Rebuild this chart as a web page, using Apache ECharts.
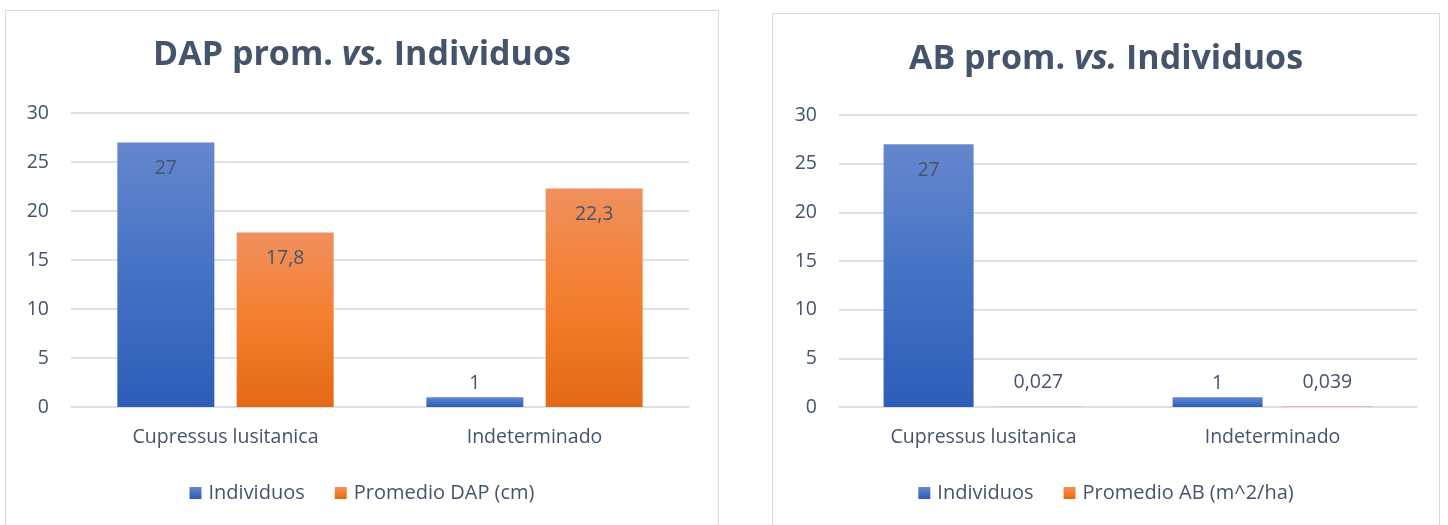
<!DOCTYPE html>
<html>
<head>
<meta charset="utf-8">
<script src="https://cdn.jsdelivr.net/npm/echarts@6/dist/echarts.min.js"></script>
<style>
  html, body { margin: 0; padding: 0; background: #fff; overflow: hidden; }
  body { width: 1448px; height: 525px; position: relative; }
  .box {
    position: absolute;
    border: 1px solid #D6DBE2;
    background: #fff;
  }
  #chartDAP { left: 5px; top: 10px; width: 712px; height: 540px; }
  #chartAB { left: 772px; top: 13px; width: 666px; height: 540px; }
</style>
</head>
<body>
<div class="box" id="chartDAP"></div>
<div class="box" id="chartAB"></div>
<script>
// datos
const categories = ["Cupressus lusitanica", "Indeterminado"];
const individuos = [27, 1];
const promedioDAP = [17.8, 22.3];
const promedioAB = [0.027, 0.039];
const yMin = 0;
const yMax = 30;
const yStep = 5;

const textColor = "#44546A";
const gridColor = "#DDE1E7";
const font = "Open Sans";
const fs = 19.5;

function grad(top, mid, bottom) {
  return new echarts.graphic.LinearGradient(0, 0, 0, 1, [
    { offset: 0, color: top },
    { offset: 0.5, color: mid },
    { offset: 1, color: bottom }
  ]);
}
const blue = grad("#6587CE", "#4472C4", "#2D5DB8");
const orange = grad("#F0905E", "#F47F2E", "#E36A16");

function fmt(v) {
  return String(v).replace(".", ",");
}

// etiquetas: dentro si la barra es alta, encima si no
function barData(values) {
  return values.map(v => {
    let big = v > 3;
    return {
      value: v,
      label: {
        position: big ? "insideTop" : "top",
        distance: big ? 16 : (v < 0.5 ? 14 : 4)
      }
    };
  });
}

function buildOption(conf) {
  return {
    animation: false,
    title: {
      text: "{b|" + conf.titleA + "}{i|vs.}{b|" + conf.titleB + "}",
      left: "center",
      top: conf.titleTop,
      padding: 0,
      textStyle: {
        rich: {
          b: { fontFamily: font, fontWeight: "bold", fontSize: 34, color: textColor, lineHeight: 40 },
          i: { fontFamily: font, fontWeight: "bold", fontStyle: "italic", fontSize: 34, color: textColor, lineHeight: 40 }
        }
      }
    },
    legend: {
      top: conf.legendTop,
      left: "center",
      itemWidth: 12,
      itemHeight: 12,
      itemGap: 30,
      icon: "rect",
      textStyle: { fontFamily: font, fontSize: 20, color: textColor, padding: [0, 0, 0, 2] },
      data: ["Individuos", conf.seriesName]
    },
    grid: {
      left: conf.gridLeft,
      top: conf.gridTop,
      width: conf.gridWidth,
      height: conf.gridHeight
    },
    xAxis: {
      type: "category",
      data: categories,
      axisTick: { show: false },
      axisLine: { show: true, lineStyle: { color: gridColor, width: 2 } },
      axisLabel: { fontFamily: font, fontSize: fs, color: textColor, margin: 20 }
    },
    yAxis: {
      type: "value",
      min: yMin,
      max: yMax,
      interval: yStep,
      axisLine: { show: false },
      axisTick: { show: false },
      splitLine: { lineStyle: { color: gridColor, width: 2 } },
      axisLabel: { fontFamily: font, fontSize: fs, color: textColor, margin: 22 }
    },
    series: [
      {
        name: "Individuos",
        type: "bar",
        barWidth: conf.barWidth,
        barGap: conf.barGap,
        itemStyle: { color: blue },
        label: {
          show: true,
          fontFamily: font,
          fontSize: fs,
          color: textColor,
          formatter: p => fmt(p.value)
        },
        data: barData(individuos)
      },
      {
        name: conf.seriesName,
        type: "bar",
        barWidth: conf.barWidth,
        itemStyle: { color: orange },
        label: {
          show: true,
          fontFamily: font,
          fontSize: fs,
          color: textColor,
          formatter: p => fmt(p.value)
        },
        data: barData(conf.values)
      }
    ]
  };
}

const chartDAP = echarts.init(document.getElementById("chartDAP"));
chartDAP.setOption(buildOption({
  titleA: "DAP prom. ",
  titleB: " Individuos",
  titleTop: 24,
  seriesName: "Promedio DAP (cm)",
  values: promedioDAP,
  legendTop: 467,
  gridLeft: 65,
  gridTop: 102,
  gridWidth: 618,
  gridHeight: 294,
  barWidth: 97,
  barGap: "23%"
}));

const chartAB = echarts.init(document.getElementById("chartAB"));
chartAB.setOption(buildOption({
  titleA: "AB prom. ",
  titleB: " Individuos",
  titleTop: 25,
  seriesName: "Promedio AB (m^2/ha)",
  values: promedioAB,
  legendTop: 464,
  gridLeft: 66,
  gridTop: 101,
  gridWidth: 578,
  gridHeight: 292,
  barWidth: 90,
  barGap: "22%"
}));

window.addEventListener("resize", () => {
  chartDAP.resize();
  chartAB.resize();
});
</script>
</body>
</html>
